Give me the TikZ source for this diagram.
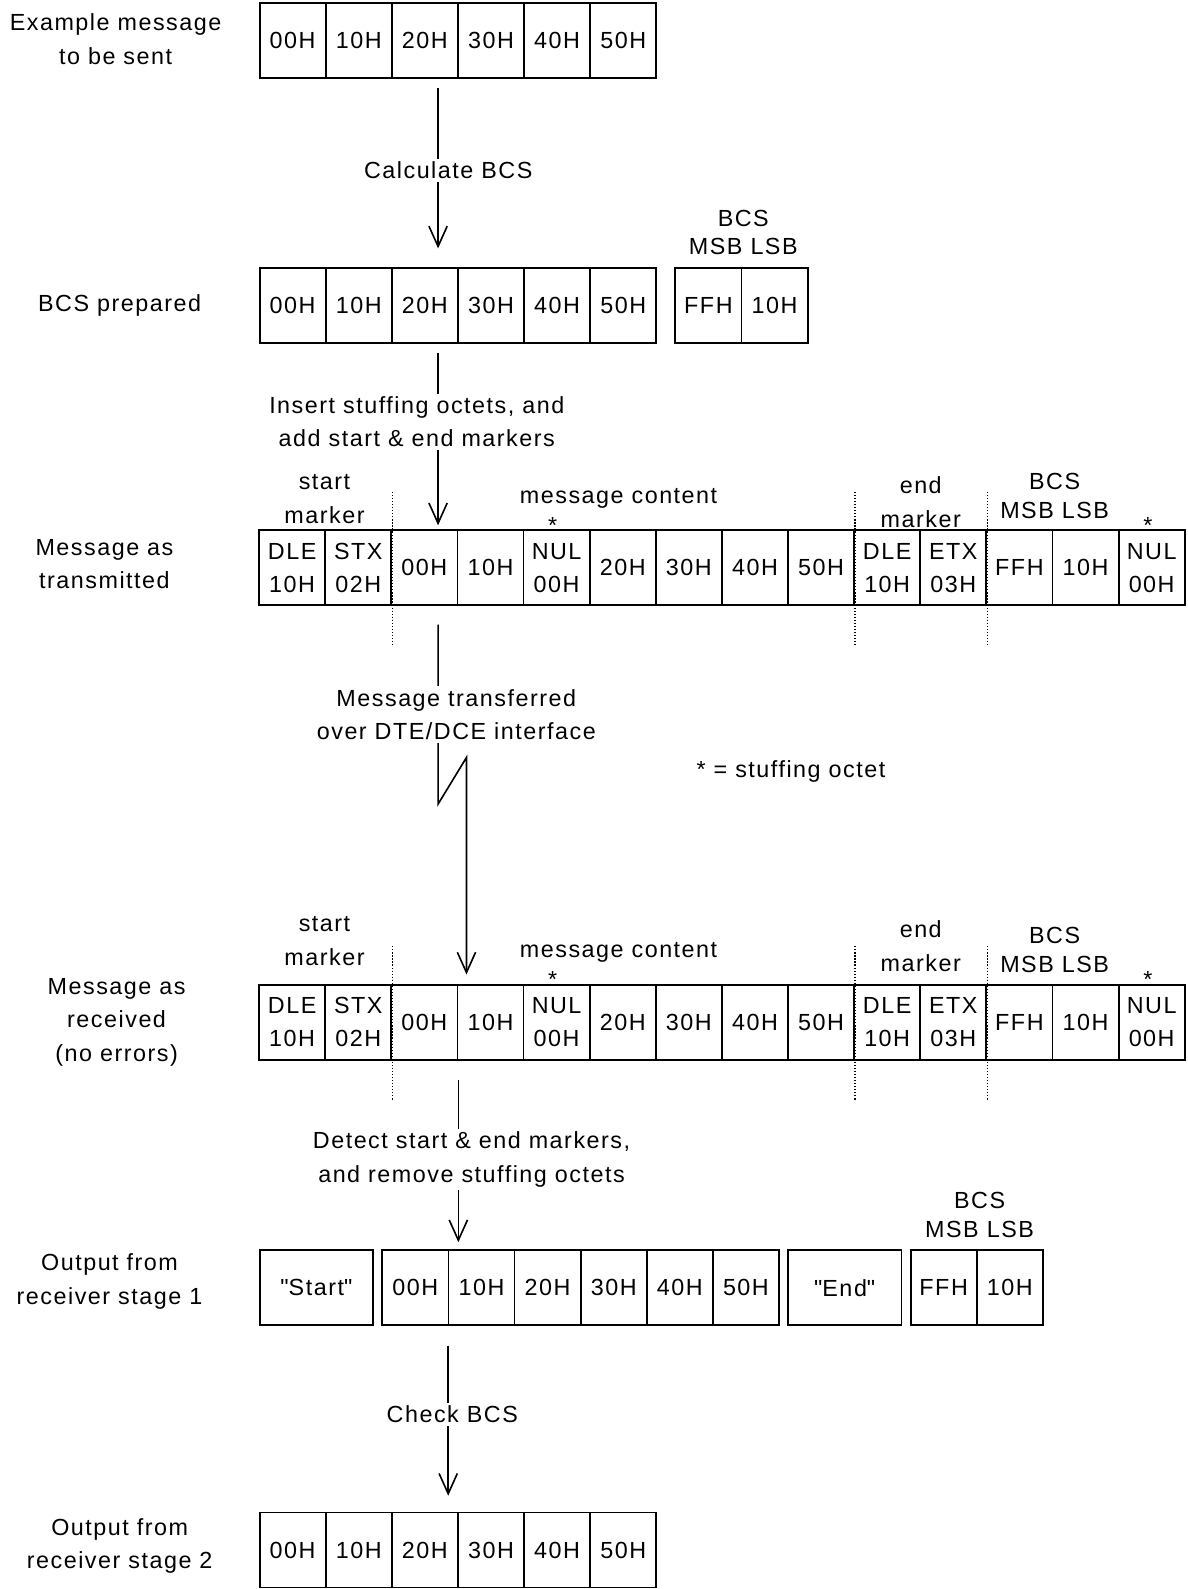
\documentclass[tikz,border=0pt]{standalone}
\usepackage{fontspec}
\setmainfont{Liberation Sans}[LetterSpace=6.5]
\usetikzlibrary{arrows.meta}
\tikzset{
  cell/.style={draw, line width=0.9pt, minimum width=32.6pt, minimum height=37pt, inner sep=0pt, align=center},
  widecell/.style={cell, minimum width=56pt},
  lbl/.style={align=center, inner sep=0pt},
  steptext/.style={align=center, fill=white, inner sep=1.5pt},
  flow/.style={line width=0.8pt, -{Straight Barb[length=10pt,width=9pt]}},
  sep/.style={line width=0.6pt, dash pattern=on 0.6pt off 0.9pt},
}

\begin{document}
\begin{tikzpicture}[x=0.5pt, y=-0.5pt, font=\fontsize{11.5}{16.5}\selectfont]
\useasboundingbox (0,0) rectangle (1171,1567);

% example message
\node[lbl] (lmsg) at (114,38.5) {Example message\\to be sent};
\foreach \t [count=\i] in {00H,10H,20H,30H,40H,50H}
  \node[cell] (msg\i) at ({256+65.2*(\i-0.5)},40) {\t};

% BCS prepared
\node[lbl] (lbcs) at (118,301) {BCS prepared};
\foreach \t [count=\i] in {00H,10H,20H,30H,40H,50H}
  \node[cell] (bcs\i) at ({256+65.2*(\i-0.5)},301) {\t};
\node[cell] (bcsm) at (698.6,301) {FFH};
\node[cell] (bcsl) at (763.8,301) {10H};
\node[lbl] (hbcs) at (733,229.5) {BCS\\[-2.5pt]MSB LSB};

% transmitted and received
\node[lbl] (ltx) at (103,556.5) {Message as\\transmitted};
\node[lbl] (lrx) at (115,1008) {Message as\\received\\(no errors)};
\foreach \r/\y/\ds/\de in {tx/560/68/65, rx/1008/80/75} {
  \foreach \t [count=\i] in {{DLE\\10H},{STX\\02H},00H,10H,{NUL\\00H},20H,30H,40H,50H,{DLE\\10H},{ETX\\03H},FFH,10H,{NUL\\00H}}
    \node[cell] (\r\i) at ({255.5+65.2*(\i-0.5)},\y) {\t};
  \draw[sep] ([yshift=18.5pt]\r2.north east) -- ([yshift=-19.5pt]\r2.south east);
  \draw[sep] ([yshift=18.5pt]\r9.north east) -- ([yshift=-19.5pt]\r9.south east);
  \draw[sep] ([yshift=18.5pt]\r11.north east) -- ([yshift=-19.5pt]\r11.south east);
  \node[lbl] at (320,\y-\ds) {start\\marker};
  \node[lbl] at (610,\y-69) {message content};
  \node[lbl] at (545,\y-42) {*};
  \node[lbl] at (908,\y-\de) {end\\marker};
  \node[lbl] at (1040,\y-71) {BCS\\[-2.5pt]MSB LSB};
  \node[lbl] at (1132,\y-42) {*};
}
\node[lbl] (key) at (780,761) {* = stuffing octet};

% receiver stage 1
\node[lbl] (lout1) at (108,1263.5) {Output from\\receiver stage 1};
\node[widecell] (start) at (312,1270) {\textquotedbl Start\textquotedbl};
\foreach \t [count=\i] in {00H,10H,20H,30H,40H,50H}
  \node[cell] (outa\i) at ({377+65.2*(\i-0.5)},1270) {\t};
\node[widecell] (end) at (833,1270) {\textquotedbl End\textquotedbl};
\node[cell] (outm) at (930.6,1270) {FFH};
\node[cell] (outl) at (995.8,1270) {10H};
\node[lbl] (hout) at (966,1198) {BCS\\[-2.5pt]MSB LSB};

% receiver stage 2
\node[lbl] (lout2) at (118,1524.5) {Output from\\receiver stage 2};
\foreach \t [count=\i] in {00H,10H,20H,30H,40H,50H}
  \node[cell] (outb\i) at ({256+65.2*(\i-0.5)},1528.5) {\t};

% steps
\coordinate (s1a) at (432,87);
\coordinate (s1b) at (432,245);
\draw[flow] (s1a) -- (s1b);
\node[steptext] at (442,168) {Calculate BCS};

\coordinate (s2a) at (432,348);
\coordinate (s2b) at (432,518);
\draw[flow] (s2a) -- (s2b);
\node[steptext] at (411,416) {Insert stuffing octets, and\\add start \& end markers};

\coordinate (s3a) at (432,616);
\coordinate (s3b) at (432,793);
\coordinate (s3c) at (460,747);
\coordinate (s3d) at (460,961);
\draw[flow] (s3a) -- (s3b) -- (s3c) -- (s3d);
\node[steptext] at (450,704.5) {Message transferred\\over DTE/DCE interface};

\coordinate (s4a) at (452,1065);
\coordinate (s4b) at (452,1225);
\draw[flow] (s4a) -- (s4b);
\node[steptext] at (465,1143.5) {Detect start \& end markers,\\and remove stuffing octets};

\coordinate (s5a) at (442,1327);
\coordinate (s5b) at (442,1475);
\draw[flow] (s5a) -- (s5b);
\node[steptext] at (446,1395) {Check BCS};

\end{tikzpicture}
\end{document}
